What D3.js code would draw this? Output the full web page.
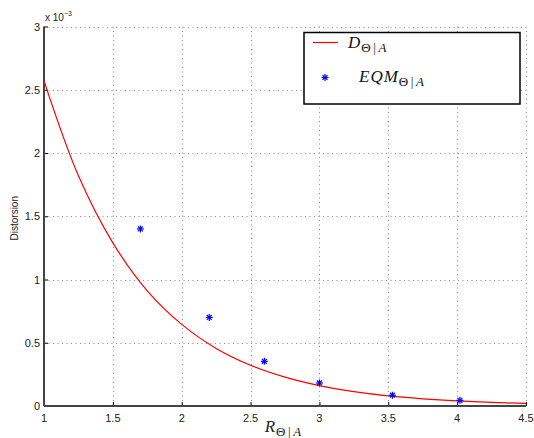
<!DOCTYPE html>
<html><head><meta charset="utf-8">
<script src="https://cdn.jsdelivr.net/npm/d3@7"></script>
<style>body{margin:0;background:#fff}svg{display:block}</style>
</head><body>
<script>
// Data (distortion in units of 1e-3)
const curveR = [1, 1.25, 1.5, 1.75, 2, 2.25, 2.5, 2.75, 3, 3.25, 3.5, 3.75, 4, 4.25, 4.5];
const curveD = [2.57, 1.82, 1.29, 0.91, 0.645, 0.455, 0.322, 0.228, 0.161, 0.114, 0.080, 0.057, 0.040, 0.028, 0.020];
const eqmR = [1.70, 2.20, 2.60, 3.00, 3.53, 4.02];
const eqmD = [1.40, 0.70, 0.353, 0.182, 0.085, 0.045];
const xTicks = [1, 1.5, 2, 2.5, 3, 3.5, 4, 4.5];
const yTicks = [0, 0.5, 1, 1.5, 2, 2.5, 3];
const xTickLabels = ["1", "1.5", "2", "2.5", "3", "3.5", "4", "4.5"];
const yTickLabels = ["0", "0.5", "1", "1.5", "2", "2.5", "3"];

const W = 534, H = 438;
const svg = d3.select("body").append("svg").attr("width", W).attr("height", H);
const L = 44, R = 526, T = 26.5, B = 406;
const x = d3.scaleLinear().domain([1, 4.5]).range([L, R]);
const y = d3.scaleLinear().domain([0, 3]).range([B, T]);
const sans = "'Liberation Sans', Arial, Helvetica, sans-serif";
const serif = "'Liberation Serif', 'Times New Roman', serif";

// grid
const grid = svg.append("g").attr("stroke", "#8a8a8a").attr("stroke-width", 1).attr("stroke-dasharray", "1,3.5");
grid.selectAll("line.gx").data(xTicks.slice(1)).join("line")
  .attr("x1", d => Math.round(x(d)) + 0.5).attr("x2", d => Math.round(x(d)) + 0.5)
  .attr("y1", T).attr("y2", B);
grid.selectAll("line.gy").data(yTicks.slice(1)).join("line")
  .attr("y1", d => Math.round(y(d)) + 0.5).attr("y2", d => Math.round(y(d)) + 0.5)
  .attr("x1", L).attr("x2", R);

// axes (inward ticks)
const xAxis = d3.axisTop(x).tickValues(xTicks).tickSize(4).tickFormat("");
const yAxis = d3.axisRight(y).tickValues(yTicks).tickSize(4).tickFormat("");
const gx = svg.append("g").attr("transform", `translate(0,${B})`).call(xAxis);
const gy = svg.append("g").attr("transform", `translate(${L},0)`).call(yAxis);
[gx, gy].forEach(g => {
  g.select(".domain").remove();
  g.selectAll(".tick line").attr("stroke", "#000").attr("stroke-width", 1);
});
svg.append("line").attr("x1", L).attr("x2", R).attr("y1", B).attr("y2", B).attr("stroke", "#444").attr("stroke-width", 2);
svg.append("line").attr("x1", L).attr("x2", L).attr("y1", T).attr("y2", B).attr("stroke", "#444").attr("stroke-width", 2);

// tick labels
svg.append("g").selectAll("text").data(xTicks).join("text")
  .attr("x", d => x(d)).attr("y", B + 16).attr("text-anchor", "middle")
  .attr("font-family", sans).attr("font-size", 11).attr("fill", "#222")
  .text((d, i) => xTickLabels[i]);
svg.append("g").selectAll("text").data(yTicks).join("text")
  .attr("x", L - 4).attr("y", d => y(d) + 4).attr("text-anchor", "end")
  .attr("font-family", sans).attr("font-size", 11).attr("fill", "#222")
  .text((d, i) => yTickLabels[i]);

// exponent
const ex = svg.append("text").attr("x", 45).attr("y", 21).attr("font-family", sans).attr("font-size", 10).attr("fill", "#222");
ex.append("tspan").text("x 10");
ex.append("tspan").attr("dy", -5).attr("font-size", 7).text("\u22123");

// y label
svg.append("text").attr("transform", `translate(18,${(T + B) / 2 + 2}) rotate(-90)`)
  .attr("text-anchor", "middle").attr("font-family", sans).attr("font-size", 10).attr("fill", "#222")
  .text("Distorsion");

function mathSub(t, main) {
  t.append("tspan").attr("font-style", "italic").attr("letter-spacing", 1).text(main);
  t.append("tspan").attr("dy", 4).attr("font-size", 13).text("\u0398\u2009|\u2009");
  t.append("tspan").attr("font-size", 13).attr("font-style", "italic").text("A");
}

// x label
const xl = svg.append("text").attr("x", (L + R) / 2 - 2).attr("y", 432).attr("text-anchor", "middle")
  .attr("font-family", serif).attr("font-size", 17).attr("fill", "#222");
mathSub(xl, "R");

// curve
const line = d3.line().x((d, i) => x(curveR[i])).y(d => y(d)).curve(d3.curveCatmullRom);
svg.append("path").datum(curveD).attr("d", line).attr("fill", "none").attr("stroke", "#ff0000").attr("stroke-width", 1.2);

// asterisk markers
function star(g, cx, cy, s) {
  const a = s * 0.7;
  const segs = [[-s, 0, s, 0], [0, -s, 0, s], [-a, -a, a, a], [-a, a, a, -a]];
  segs.forEach(p => g.append("line").attr("x1", cx + p[0]).attr("y1", cy + p[1]).attr("x2", cx + p[2]).attr("y2", cy + p[3])
    .attr("stroke", "#0000ff").attr("stroke-width", 1.2));
}
const mg = svg.append("g");
eqmR.forEach((r, i) => star(mg, x(r), y(eqmD[i]), 3.5));

// legend
const lg = svg.append("g");
lg.append("rect").attr("x", 304).attr("y", 32.5).attr("width", 216).attr("height", 71.5)
  .attr("fill", "#fff").attr("stroke", "#000").attr("stroke-width", 1.5);
lg.append("line").attr("x1", 313).attr("x2", 338).attr("y1", 42.5).attr("y2", 42.5).attr("stroke", "#ff0000").attr("stroke-width", 1.2);
const t1 = lg.append("text").attr("x", 348).attr("y", 48).attr("font-family", serif).attr("font-size", 17).attr("fill", "#111");
mathSub(t1, "D");
star(lg, 325, 77.5, 3.5);
const t2 = lg.append("text").attr("x", 359).attr("y", 82).attr("font-family", serif).attr("font-size", 17).attr("fill", "#111");
mathSub(t2, "EQM");
</script>
</body></html>
